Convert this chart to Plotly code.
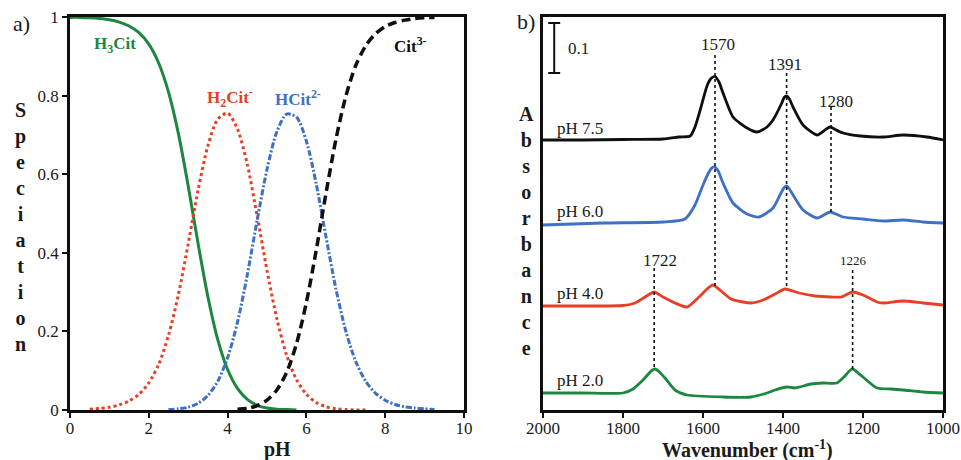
import plotly.graph_objects as go

# ---------------- data: citrate speciation vs pH ----------------
ph = [0.00, 0.25, 0.50, 0.75, 1.00, 1.25, 1.50, 1.75, 2.00, 2.25,
      2.50, 2.75, 3.00, 3.25, 3.50, 3.75, 4.00, 4.25, 4.50, 4.75,
      5.00, 5.25, 5.50, 5.75, 6.00, 6.25, 6.50, 6.75, 7.00, 7.25,
      7.50, 7.75, 8.00, 8.25, 8.50, 8.75, 9.00, 9.25]
h3cit = [0.999, 0.999, 0.998, 0.996, 0.993, 0.987, 0.977, 0.960, 0.931, 0.883,
         0.809, 0.704, 0.570, 0.424, 0.288, 0.179, 0.103, 0.055, 0.027, 0.012,
         0.005, 0.002, 0.001, 0.000, 0.000, 0.000, 0.000, 0.000, 0.000, 0.000,
         0.000, 0.000, 0.000, 0.000, 0.000, 0.000, 0.000, 0.000]
h2cit = [0.001, 0.001, 0.002, 0.004, 0.007, 0.013, 0.023, 0.040, 0.069, 0.116,
         0.190, 0.293, 0.423, 0.559, 0.672, 0.740, 0.755, 0.715, 0.625, 0.494,
         0.355, 0.232, 0.139, 0.077, 0.040, 0.019, 0.008, 0.003, 0.001, 0.000,
         0.000, 0.000, 0.000, 0.000, 0.000, 0.000, 0.000, 0.000]
hcit = [0.000, 0.000, 0.000, 0.000, 0.000, 0.000, 0.000, 0.000, 0.000, 0.000,
        0.001, 0.003, 0.007, 0.017, 0.037, 0.073, 0.133, 0.223, 0.344, 0.483,
        0.612, 0.708, 0.753, 0.745, 0.684, 0.575, 0.439, 0.308, 0.201, 0.124,
        0.074, 0.043, 0.025, 0.014, 0.008, 0.005, 0.003, 0.001]
cit = [0.000, 0.000, 0.000, 0.000, 0.000, 0.000, 0.000, 0.000, 0.000, 0.000,
       0.000, 0.000, 0.000, 0.000, 0.000, 0.000, 0.001, 0.002, 0.004, 0.011,
       0.025, 0.051, 0.096, 0.169, 0.274, 0.407, 0.553, 0.689, 0.798, 0.876,
       0.926, 0.957, 0.976, 0.986, 0.992, 0.996, 0.998, 0.999]

# ---------------- data: IR spectra (absorbance above each baseline) ----------------
wn_75 = [2000, 1900, 1800, 1700, 1660, 1632, 1620, 1607, 1590, 1580, 1570, 1560, 1550, 1525, 1490, 1465,
         1440, 1425, 1403, 1397, 1391, 1384, 1375, 1350, 1315, 1290, 1282, 1274, 1250, 1207, 1150, 1100, 1040, 1000]
abs_75 = [0.000, 0.000, 0.001, 0.002, 0.006, 0.008, 0.026, 0.060, 0.108, 0.123, 0.127, 0.116, 0.094, 0.046, 0.024, 0.016,
          0.026, 0.040, 0.074, 0.085, 0.088, 0.082, 0.066, 0.030, 0.010, 0.023, 0.026, 0.023, 0.014, 0.008, 0.006, 0.010, 0.006, 0.000]

wn_60 = [2000, 1850, 1700, 1645, 1620, 1600, 1585, 1578, 1570, 1562, 1550, 1525, 1490, 1460, 1425,
         1405, 1397, 1391, 1384, 1375, 1350, 1315, 1282, 1250, 1200, 1150, 1100, 1050, 1000]
abs_60 = [0.000, 0.004, 0.006, 0.012, 0.040, 0.080, 0.106, 0.114, 0.116, 0.108, 0.084, 0.044, 0.022, 0.016, 0.034,
          0.064, 0.075, 0.078, 0.072, 0.060, 0.030, 0.014, 0.026, 0.016, 0.012, 0.008, 0.010, 0.006, 0.004]

wn_40 = [2000, 1900, 1800, 1770, 1745, 1722, 1700, 1670, 1640, 1610, 1590, 1575, 1555, 1530, 1500,
         1480, 1450, 1420, 1395, 1360, 1320, 1280, 1255, 1226, 1200, 1165, 1150, 1100, 1050, 1000]
abs_40 = [0.000, 0.000, 0.001, 0.006, 0.018, 0.028, 0.018, 0.006, -0.002, 0.018, 0.034, 0.042, 0.030, 0.014, 0.008,
          0.006, 0.012, 0.024, 0.034, 0.026, 0.020, 0.018, 0.018, 0.028, 0.022, 0.008, 0.006, 0.010, 0.006, 0.002]

wn_20 = [2000, 1900, 1800, 1775, 1750, 1728, 1720, 1712, 1695, 1670, 1640, 1550, 1480, 1440, 1420,
         1390, 1370, 1330, 1300, 1265, 1245, 1233, 1226, 1218, 1200, 1165, 1130, 1100, 1050, 1000]
abs_20 = [0.000, 0.000, 0.000, 0.008, 0.026, 0.045, 0.048, 0.044, 0.030, 0.006, -0.004, -0.008, -0.008, 0.000, 0.006,
          0.012, 0.010, 0.018, 0.020, 0.020, 0.034, 0.045, 0.048, 0.044, 0.032, 0.010, 0.008, 0.006, 0.002, 0.000]

spectra_labels = ["pH 7.5", "pH 6.0", "pH 4.0", "pH 2.0"]
spectra_offsets = [0.540, 0.370, 0.208, 0.034]
peak_positions = [1570, 1391, 1280, 1722, 1226]
scale_bar_value = 0.1

# ---------------- styling ----------------
SERIF = "Liberation Serif"
GREEN = "rgb(28,135,62)"
RED = "rgb(232,62,38)"
BLUE = "rgb(62,112,198)"
BLACK = "rgb(15,15,15)"

fig = go.Figure()

# speciation curves: (values, colour, dash, width, pH span drawn)
species = [
    (h3cit, GREEN, "solid", 3, (0.0, 5.75)),
    (h2cit, RED, "dot", 3, (0.5, 7.5)),
    (hcit, BLUE, "6px,2px,2px,2px", 3, (2.5, 9.25)),
    (cit, BLACK, "9px,5px", 3.5, (4.25, 9.25)),
]
for vals, col, dash, w, (lo, hi) in species:
    xs = [p for p in ph if lo <= p <= hi]
    ys = [v for p, v in zip(ph, vals) if lo <= p <= hi]
    fig.add_trace(go.Scatter(x=xs, y=ys, mode="lines", xaxis="x", yaxis="y",
                             line=dict(color=col, width=w, dash=dash, shape="spline", smoothing=0.8),
                             showlegend=False, hoverinfo="skip"))

# IR spectra, stacked with vertical offsets
spectra = [(wn_75, abs_75, BLACK), (wn_60, abs_60, BLUE), (wn_40, abs_40, RED), (wn_20, abs_20, GREEN)]
for (wn, ab, col), off in zip(spectra, spectra_offsets):
    fig.add_trace(go.Scatter(x=wn, y=[a + off for a in ab], mode="lines", xaxis="x2", yaxis="y2",
                             line=dict(color=col, width=2.8, shape="spline", smoothing=0.6),
                             showlegend=False, hoverinfo="skip"))

# dashed guide lines at the assigned band positions (top, bottom in absorbance units)
guide_spans = {1570: (0.710, 0.246), 1391: (0.674, 0.242), 1280: (0.606, 0.396),
               1722: (0.284, 0.082), 1226: (0.280, 0.082)}
for pk in peak_positions:
    top, bot = guide_spans[pk]
    fig.add_trace(go.Scatter(x=[pk, pk], y=[top, bot], mode="lines", xaxis="x2", yaxis="y2",
                             line=dict(color=BLACK, width=1.6, dash="3px,3px"),
                             showlegend=False, hoverinfo="skip"))

# 0.1 absorbance scale bar
bar_x, bar_top = 1972, 0.774
fig.add_trace(go.Scatter(
    x=[bar_x - 15, bar_x + 15, None, bar_x, bar_x, None, bar_x - 15, bar_x + 15],
    y=[bar_top, bar_top, None, bar_top, bar_top - scale_bar_value, None,
       bar_top - scale_bar_value, bar_top - scale_bar_value],
    mode="lines", xaxis="x2", yaxis="y2", line=dict(color=BLACK, width=2),
    showlegend=False, hoverinfo="skip"))

tickfont = dict(family=SERIF, size=17, color="#1a1a1a")
axis_common = dict(showline=True, linecolor=BLACK, linewidth=2.5, mirror=True,
                   showgrid=False, zeroline=False, ticks="outside", ticklen=5,
                   tickwidth=2, tickcolor=BLACK, tickfont=tickfont, automargin=False)

ydom = [50 / 460, 443 / 460]
fig.update_layout(
    width=961, height=460, autosize=False,
    margin=dict(l=0, r=0, t=0, b=0),
    font=dict(family=SERIF, size=17, color="#1a1a1a"),
    paper_bgcolor="white", plot_bgcolor="white",
    xaxis=dict(domain=[70 / 961, 464 / 961], range=[0, 10], tickvals=[0, 2, 4, 6, 8, 10],
               anchor="y", ticklabelstandoff=-4, **axis_common),
    yaxis=dict(domain=ydom, range=[0, 1], tickvals=[0, 0.2, 0.4, 0.6, 0.8, 1],
               ticktext=["0", "0.2", "0.4", "0.6", "0.8", "1"], anchor="x", **axis_common),
    xaxis2=dict(domain=[543 / 961, 943 / 961], range=[2000, 1000],
                tickvals=[2000, 1800, 1600, 1400, 1200, 1000], anchor="y2",
                ticklabelstandoff=-4, **axis_common),
    yaxis2=dict(domain=ydom, range=[0, 0.786], anchor="x2", showticklabels=False,
                showline=True, linecolor=BLACK, linewidth=2.5, mirror=True,
                showgrid=False, zeroline=False, ticks="", automargin=False),
)

ann = []


def text(x, y, s, size=17, bold=False, color="#1a1a1a", xref="paper", yref="paper",
         xanchor="center", yanchor="middle"):
    ann.append(dict(x=x, y=y, xref=xref, yref=yref, text=f"<b>{s}</b>" if bold else s,
                    showarrow=False, xanchor=xanchor, yanchor=yanchor,
                    font=dict(family=SERIF, size=size, color=color)))


# panel letters
text(21 / 961, 1 - 23 / 460, "a)", size=22)
text(526 / 961, 1 - 22 / 460, "b)", size=22)

# axis titles
text(277 / 961, 1 - 449 / 460, "pH", size=20, bold=True)
text(747 / 961, 1 - 449 / 460, "Wavenumber (cm<sup>-1</sup>)", size=20, bold=True)
text(20 / 961, 1 - 226.5 / 460, "<br>".join("Speciation"), size=20, bold=True)
text(526 / 961, 1 - 230.5 / 460, "<br>".join("Absorbance"), size=20, bold=True)

# species labels
text(1.14, 0.93, "H<sub>3</sub>Cit", size=17, bold=True, color=GREEN, xref="x", yref="y")
text(4.06, 0.795, "H<sub>2</sub>Cit<sup>-</sup>", size=17, bold=True, color=RED, xref="x", yref="y")
text(5.79, 0.795, "HCit<sup>2-</sup>", size=17, bold=True, color=BLUE, xref="x", yref="y")
text(8.63, 0.93, "Cit<sup>3-</sup>", size=17, bold=True, color=BLACK, xref="x", yref="y")

# spectrum labels
label_y = [0.564, 0.398, 0.234, 0.060]
for lab, ly in zip(spectra_labels, label_y):
    text(1970, ly, lab, size=17, xref="x2", yref="y2", xanchor="left")

# band position labels
band_label_pos = {1570: (1563, 0.732, 17), 1391: (1395, 0.692, 17), 1280: (1267, 0.618, 17),
                  1722: (1707, 0.300, 17), 1226: (1225, 0.300, 13)}
for pk in peak_positions:
    bx, by, fs = band_label_pos[pk]
    text(bx, by, str(pk), size=fs, xref="x2", yref="y2")

# scale bar label
text(1943, bar_top - scale_bar_value / 2, f"{scale_bar_value}", size=17, xref="x2", yref="y2", xanchor="left")

fig.update_layout(annotations=ann)
fig.write_html("out.html")
